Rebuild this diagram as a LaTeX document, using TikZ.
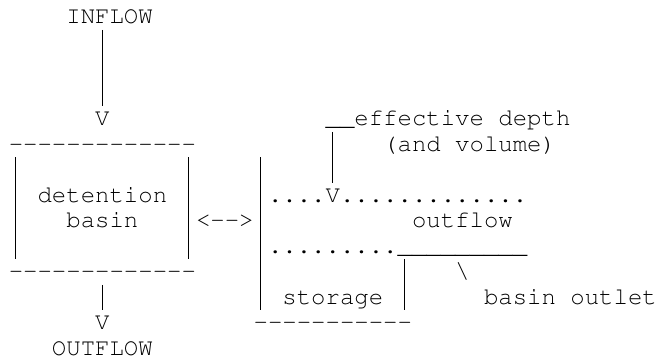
\documentclass[tikz,border=0pt]{standalone}
\usepackage[T1]{fontenc}
\usepackage{courier}

\begin{document}
\begin{tikzpicture}[x=14.4bp,y=-25.5bp]
  \tikzset{ascii/.style={font=\ttfamily\fontsize{24bp}{25.5bp}\selectfont,inner sep=0pt,outer sep=0pt,anchor=base west},
    bar/.style={line width=1bp}}
  \useasboundingbox (-1.111,-0.667) rectangle (44.514,13.45);

  \node [ascii] (inflow) at (3.5,0.27) {INFLOW};
  \node [ascii] (inV) at (5.5,4.27) {V};
  \node [ascii] (effdepth) at (21.5,4.27) {\_\_effective depth};
  \node [ascii] (andvol) at (25.5,5.27) {(and volume)};
  \node [ascii] (detention) at (1.5,7.27) {detention};
  \node [ascii] (level) at (17.5,7.27) {....V.............};
  \node [ascii] (basin) at (3.5,8.27) {basin};
  \node [ascii] (link) at (12.5,8.27) {<{-}{-}>};
  \node [ascii] (outflowlbl) at (27.5,8.27) {outflow};
  \node [ascii] (crest) at (17.5,9.27) {.........};
  \node [ascii] (weir) at (26.5,9.27) {\_\_\_\_\_\_\_\_\_};
  \node [ascii] (slash) at (30.5,10.27) {\textbackslash};
  \node [ascii] (storage) at (18.5,11.27) {storage};
  \node [ascii] (outlet) at (32.5,11.27) {basin outlet};
  \node [ascii] (outV) at (5.5,12.27) {V};
  \node [ascii] (outflow) at (2.5,13.27) {OUTFLOW};

  \foreach \c in {0,...,12} {
    \node [ascii] (top\c) at (\c-0.5,5.27) {-};
    \node [ascii] (bot\c) at (\c-0.5,10.27) {-};
  }
  \foreach \c in {17,...,27}
    \node [ascii] (floor\c) at (\c-0.5,12.27) {-};

  \draw [bar] (6,0.5) -- (6,3.5);
  \foreach \c in {0,12}
    \draw [bar] (\c,5.5) -- (\c,9.5);
  \draw [bar] (17,5.5) -- (17,11.5);
  \draw [bar] (22,4.5) -- (22,6.5);
  \draw [bar] (6,10.5) -- (6,11.5);
  \draw [bar] (27,9.5) -- (27,11.5);
\end{tikzpicture}
\end{document}
